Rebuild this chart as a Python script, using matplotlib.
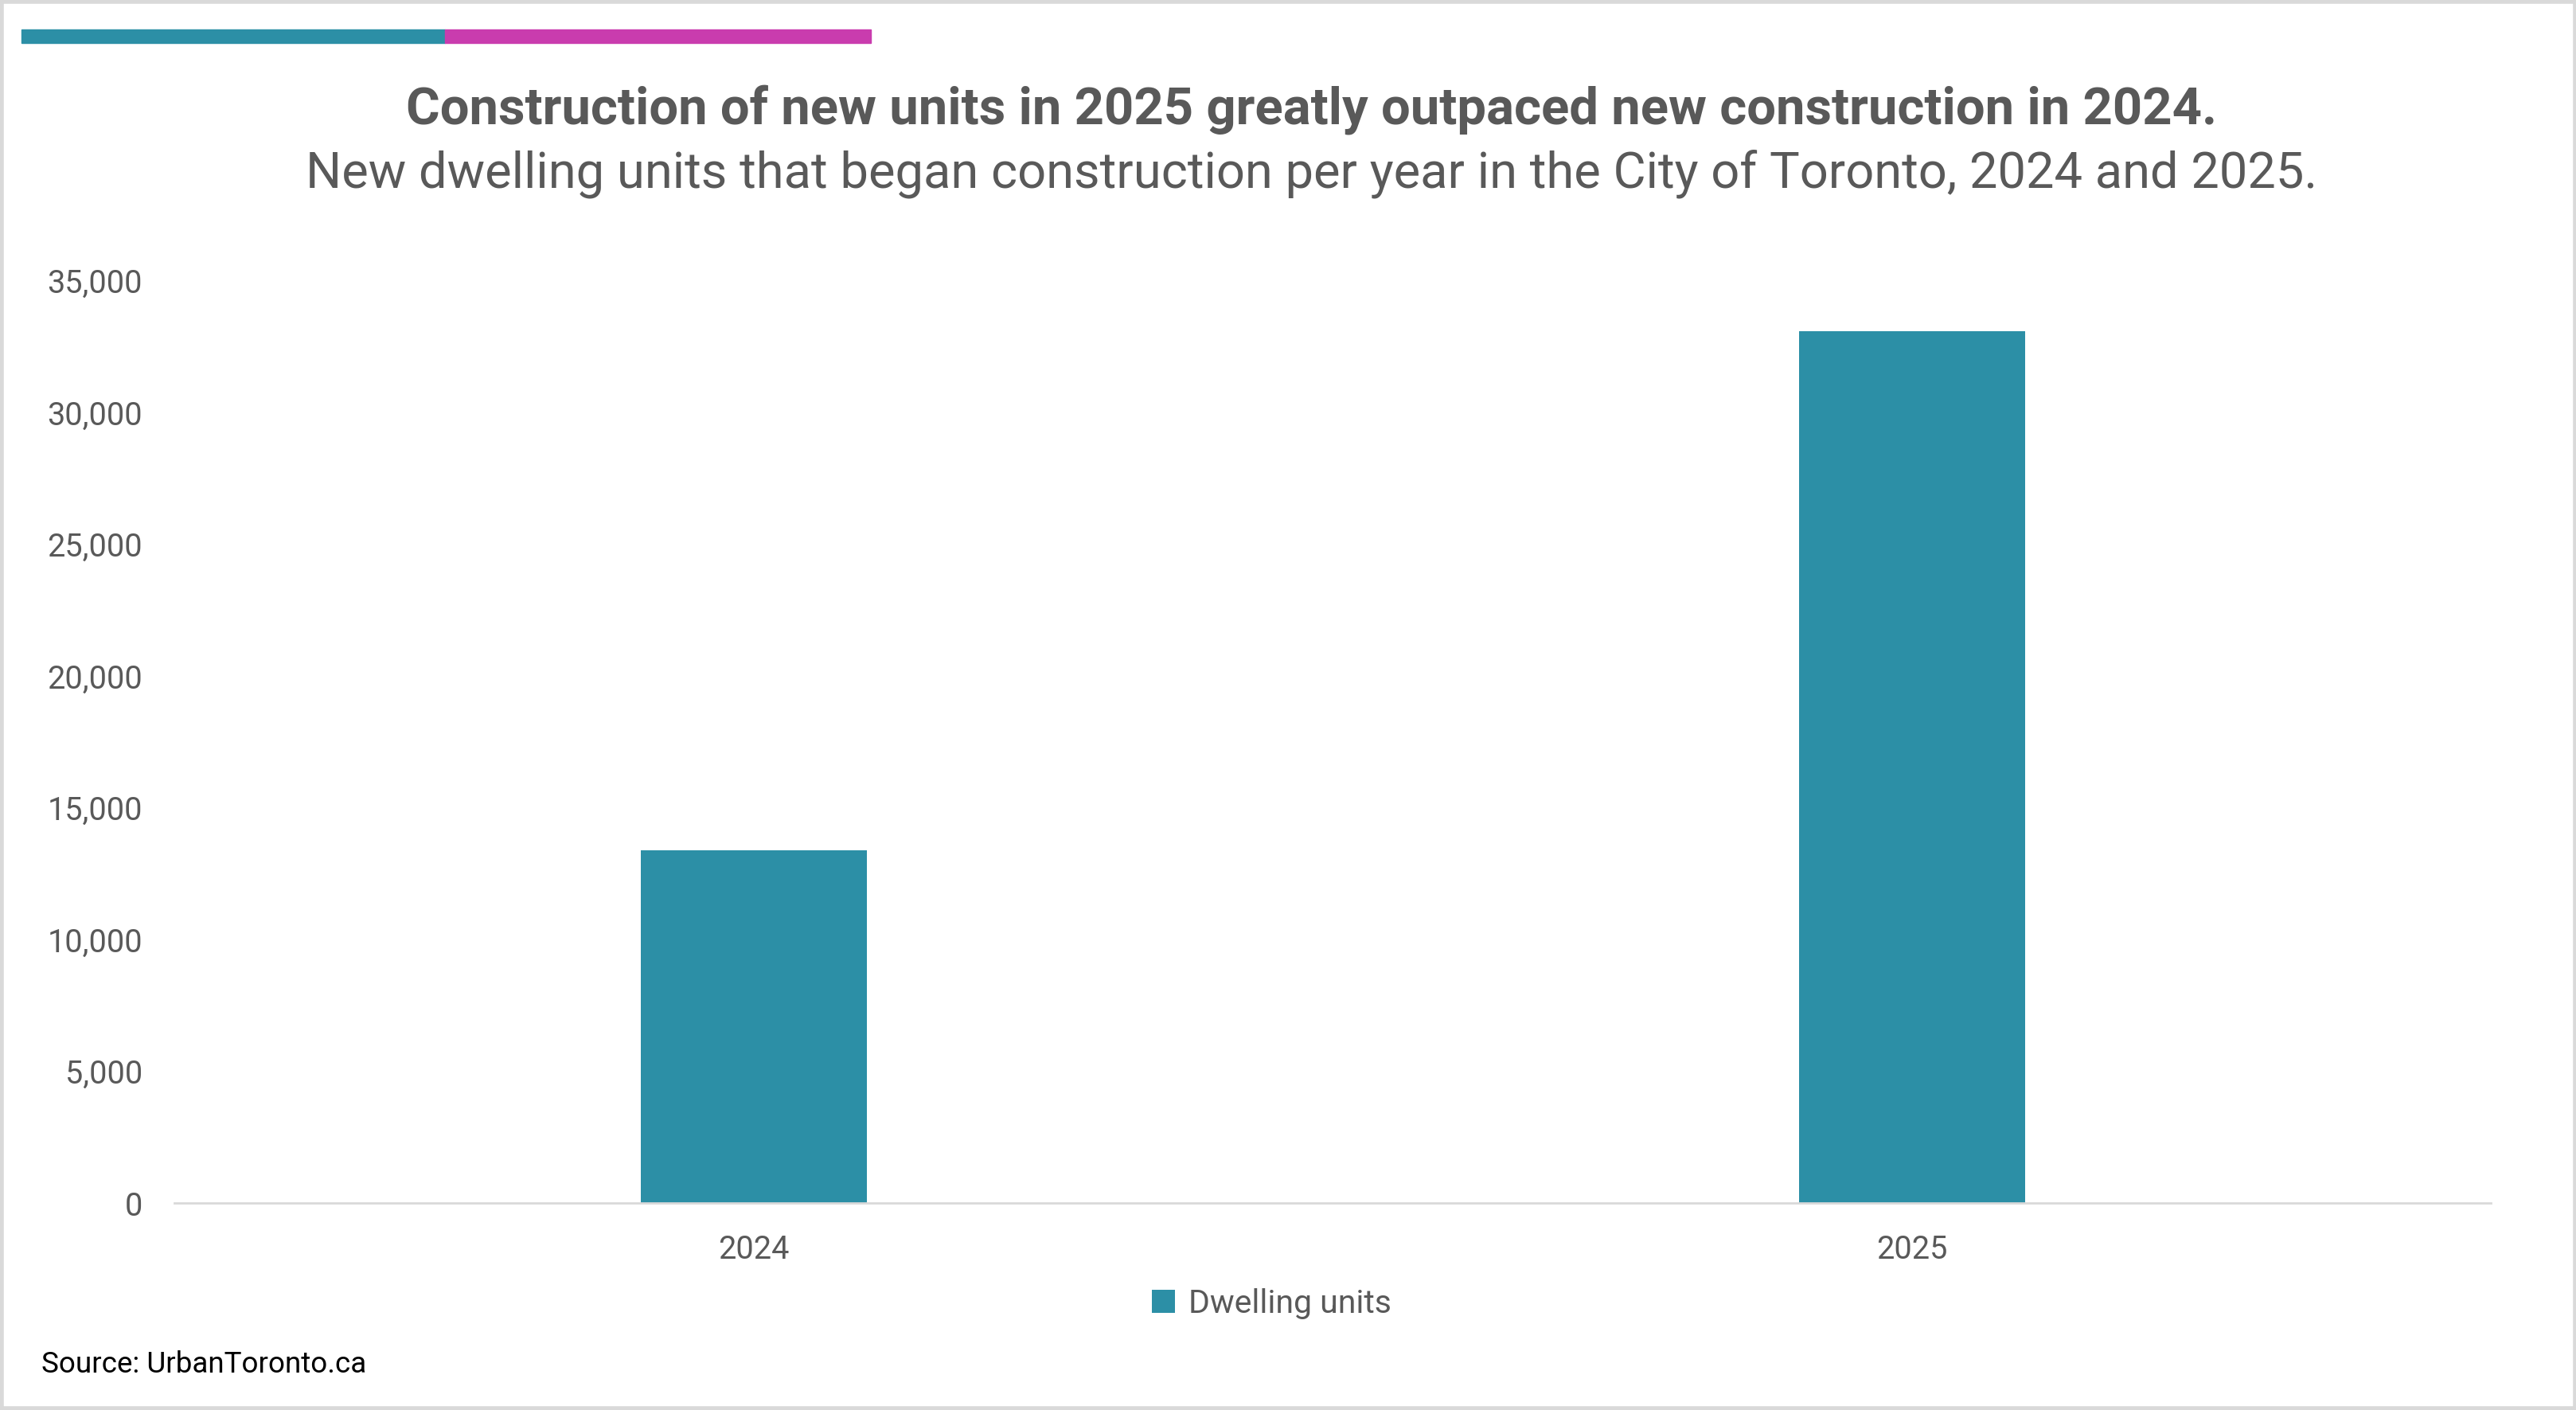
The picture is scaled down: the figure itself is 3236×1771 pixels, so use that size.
import matplotlib.pyplot as plt
from matplotlib.patches import Rectangle

# data
years = ["2024", "2025"]
units = [13400, 33100]
yticks = [0, 5000, 10000, 15000, 20000, 25000, 30000, 35000]

teal = "#2c8fa6"
magenta = "#c93cae"
grey = "#595959"

plt.rcParams["font.family"] = ["Roboto", "DejaVu Sans"]

fig = plt.figure(figsize=(32.37, 17.71), dpi=100)
ax = fig.add_axes([0.0677, 0.1468, 0.899, 0.654])

ax.bar(range(len(years)), units, width=0.195, color=teal, label="Dwelling units", zorder=2)
ax.set_xlim(-0.5, 1.5)
ax.set_ylim(0, 35000)
ax.set_xticks(range(len(years)))
ax.set_xticklabels(years)
ax.set_yticks(yticks)
ax.set_yticklabels([f"{v:,}" for v in yticks])
ax.tick_params(axis="both", length=0, labelsize=28.5, labelcolor=grey)
ax.tick_params(axis="x", pad=28)
ax.tick_params(axis="y", pad=29)
for s in ["top", "right", "left"]:
    ax.spines[s].set_visible(False)
ax.spines["bottom"].set_color("#d9d9d9")
ax.spines["bottom"].set_linewidth(2)

leg = fig.legend(*ax.get_legend_handles_labels(), loc="center", bbox_to_anchor=(0.4935, 0.0755),
                 frameon=False, fontsize=29.5, handlelength=0.7, handleheight=0.7, handletextpad=0.4)
for t in leg.get_texts():
    t.set_color(grey)

# title and subtitle
fig.text(0.509, 0.9225, "Construction of new units in 2025 greatly outpaced new construction in 2024.",
         ha="center", va="center", fontsize=47, fontweight="bold", color=grey)
fig.text(0.509, 0.8765, "New dwelling units that began construction per year in the City of Toronto, 2024 and 2025.",
         ha="center", va="center", fontsize=45.5, color=grey)

fig.text(0.016, 0.032, "Source: UrbanToronto.ca", ha="left", va="center", fontsize=26.5, color="black")

# accent bar at the top
fig.patches.append(Rectangle((27 / 3237, 1 - 54 / 1771), 532 / 3237, 17 / 1771,
                             transform=fig.transFigure, color=teal))
fig.patches.append(Rectangle((559 / 3237, 1 - 54 / 1771), 535 / 3237, 17 / 1771,
                             transform=fig.transFigure, color=magenta))
# outer border
fig.patches.append(Rectangle((0.0005, 0.001), 0.999, 0.998, transform=fig.transFigure,
                             fill=False, edgecolor="#d9d9d9", linewidth=4))

fig.savefig("out.png", dpi=100)
